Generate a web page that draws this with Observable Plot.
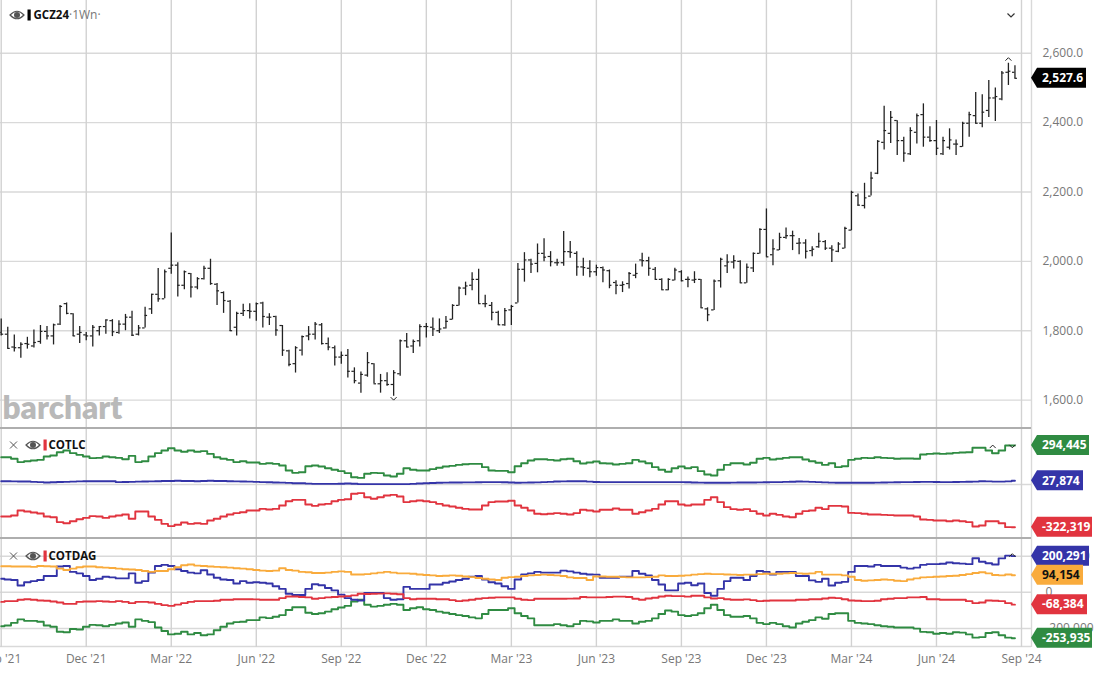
<!DOCTYPE html>
<html>
<head>
<meta charset="utf-8">
<script src="https://cdn.jsdelivr.net/npm/d3@7"></script>
<script src="https://cdn.jsdelivr.net/npm/@observablehq/plot@0.6"></script>
<style>
html,body{margin:0;padding:0;background:#fff;overflow:hidden}
#chart{position:relative;width:1100px;height:675px;overflow:hidden;font-family:"Open Sans",sans-serif}
#chart>svg,#chart>div{position:absolute}
</style>
</head>
<body>
<div id="chart"></div>
<script>
// Weekly OHLC, GCZ24
const high=[1834,1810,1788,1765,1781,1802,1815,1812,1819,1873,
1880,1849,1812,1795,1815,1812,1831,1832,1829,1847,
1856,1815,1868,1905,1979,1975,2082,1996,1972,1965,
1953,1986,2006,1936,1912,1887,1853,1876,1878,1880,
1882,1849,1842,1815,1744,1754,1785,1812,1824,1821,
1779,1756,1739,1746,1693,1681,1737,1705,1674,1679,
1685,1773,1792,1773,1817,1821,1837,1834,1841,1875,
1926,1940,1967,1977,1902,1881,1856,1864,1873,1994,
2025,2006,2050,2065,2028,2006,2086,2057,2028,2009,
2002,1989,1984,1975,1944,1941,1968,1992,2023,2012,
1982,1950,1950,1980,1973,1955,1970,1948,1866,1946,
2009,2019,2016,2002,1992,2024,2094,2151,2062,2081,
2096,2087,2066,2062,2042,2081,2060,2045,2054,2098,
2202,2194,2225,2257,2348,2447,2432,2405,2358,2385,
2425,2454,2388,2406,2358,2382,2350,2401,2430,2487,
2480,2521,2500,2547,2571,2564];
const low=[1785,1747,1739,1721,1747,1750,1761,1773,1759,1815,
1846,1783,1763,1771,1753,1785,1790,1783,1790,1800,
1783,1785,1808,1847,1882,1892,1963,1897,1918,1894,
1918,1946,1931,1873,1850,1798,1785,1841,1834,1827,
1808,1815,1784,1726,1696,1678,1727,1771,1773,1759,
1742,1698,1703,1664,1647,1620,1666,1647,1620,1640,
1611,1669,1751,1734,1753,1779,1783,1792,1805,1831,
1871,1901,1915,1878,1866,1829,1815,1813,1815,1880,
1940,1965,1967,1999,1984,1986,1986,2009,1957,1957,
1953,1957,1938,1921,1904,1910,1920,1950,1984,1957,
1946,1917,1915,1944,1941,1924,1936,1865,1826,1858,
1923,1965,1978,1937,1937,1968,2021,2012,1987,2031,
2064,2031,2019,2007,2013,2038,2031,1997,2025,2036,
2088,2159,2151,2188,2250,2321,2340,2305,2286,2305,
2338,2329,2343,2305,2305,2321,2305,2329,2358,2396,
2385,2415,2403,2463,2507,2526];
const open=[1795,1790,1753,1751,1763,1756,1769,1798,1785,1819,
1878,1849,1790,1788,1785,1800,1812,1829,1795,1819,
1839,1790,1808,1863,1905,1892,1980,1989,1931,1965,
1926,1950,1980,1934,1910,1885,1810,1850,1858,1856,
1880,1839,1841,1815,1742,1705,1744,1785,1790,1817,
1763,1751,1724,1729,1683,1649,1672,1705,1647,1656,
1645,1676,1771,1756,1771,1812,1810,1800,1808,1833,
1873,1923,1931,1948,1878,1873,1853,1817,1860,1880,
1977,2004,1994,2023,2014,1996,1996,2028,2023,1984,
1980,1970,1982,1973,1939,1931,1936,1960,2004,2002,
1977,1948,1918,1946,1970,1948,1946,1948,1863,1860,
1944,1987,1998,2000,1938,1981,2023,2092,2019,2033,
2069,2074,2052,2053,2031,2042,2057,2038,2029,2038,
2090,2189,2161,2188,2254,2343,2369,2406,2348,2310,
2372,2423,2358,2348,2310,2329,2338,2331,2398,2420,
2398,2435,2471,2468,2545,2545];
const close=[1790,1749,1751,1761,1761,1766,1798,1785,1817,1870,
1850,1785,1795,1785,1810,1812,1831,1797,1819,1839,
1787,1808,1844,1905,1892,1970,1989,1931,1970,1926,
1950,1980,1936,1915,1887,1800,1850,1858,1856,1878,
1841,1839,1802,1744,1703,1751,1783,1790,1819,1763,
1753,1724,1729,1683,1656,1674,1708,1647,1656,1645,
1679,1771,1753,1769,1812,1812,1805,1805,1827,1873,
1923,1929,1948,1878,1878,1853,1817,1858,1870,1977,
2004,1992,2023,2012,1999,1996,2028,2026,1984,1982,
1970,1982,1975,1931,1931,1933,1965,1965,2002,1980,
1948,1918,1948,1975,1944,1948,1948,1866,1846,1943,
2006,1998,2002,1938,1983,2023,2092,2013,2036,2069,
2074,2074,2053,2029,2035,2058,2038,2033,2050,2095,
2199,2162,2183,2240,2346,2377,2415,2348,2312,2377,
2420,2358,2348,2326,2348,2350,2338,2398,2423,2398,
2430,2471,2475,2543,2548,2527.6];

// COTLC, thousands of contracts
const cotlcGreen=[206,206,194,169,176,181,186,211,219,244,
257,237,224,211,199,201,211,206,201,191,
216,169,176,211,237,257,274,257,247,257,
247,252,231,206,194,186,169,176,166,166,
156,161,156,143,106,88,93,138,143,136,
123,111,101,86,55,50,81,88,86,68,
60,81,123,111,106,106,116,126,136,141,
148,153,156,156,131,106,103,103,93,138,
161,181,191,191,186,181,191,194,176,159,
166,174,161,159,151,156,161,186,174,161,
131,111,96,123,136,123,131,101,75,68,
111,148,161,161,151,164,194,201,189,194,
201,206,206,189,176,164,148,161,131,138,
186,194,201,199,206,201,199,194,196,196,
194,226,231,234,231,234,239,242,244,277,
277,257,236,257,294,294.445];
const cotlcBlue=[25,25,24,23,23,20,18,15,17,19,
20,22,24,25,25,25,25,25,18,19,
20,22,23,24,25,26,27,28,27,26,
25,26,28,27,26,25,24,23,22,20,
18,17,15,14,12,10,9,7,5,5,
5,5,6,8,6,3,3,3,3,3,
3,3,3,5,8,10,11,13,14,15,
15,16,16,17,18,18,18,17,15,13,
14,15,16,18,20,23,24,25,25,25,
22,19,18,18,18,18,18,18,18,18,
18,18,18,18,18,17,15,14,13,13,
13,13,14,15,15,15,16,17,18,18,
20,21,23,22,20,18,16,14,13,13,
13,13,13,13,14,15,16,17,18,18,
19,20,20,19,18,18,19,20,21,22,
25,24,22,22,24,27.874];
const cotlcRed=[-242,-242,-234,-196,-204,-211,-219,-242,-247,-284,
-292,-277,-262,-252,-239,-242,-252,-242,-234,-226,
-259,-204,-204,-242,-267,-297,-314,-304,-287,-297,
-292,-297,-272,-259,-242,-226,-216,-209,-196,-196,
-184,-189,-184,-159,-126,-116,-116,-151,-161,-151,
-146,-126,-116,-111,-70,-65,-96,-108,-96,-83,
-78,-91,-133,-126,-121,-126,-133,-146,-159,-166,
-176,-184,-189,-189,-159,-133,-128,-128,-123,-159,
-176,-196,-221,-224,-221,-216,-221,-226,-216,-191,
-196,-204,-191,-191,-181,-191,-191,-221,-209,-196,
-184,-151,-126,-126,-151,-159,-151,-151,-116,-96,
-133,-171,-186,-191,-186,-201,-221,-234,-221,-229,
-242,-247,-221,-201,-196,-176,-186,-161,-161,-166,
-214,-216,-221,-226,-226,-229,-231,-234,-234,-234,
-242,-264,-267,-272,-272,-277,-272,-277,-284,-317,
-309,-277,-277,-292,-322,-322.319];

// COTDAG, thousands of contracts
const cotdagBlue=[75,71,68,38,56,62,68,90,90,143,
146,113,105,90,68,75,86,83,77,77,
105,53,62,109,146,152,146,128,118,109,
105,122,99,81,71,68,49,62,53,56,
53,49,34,19,-8,-15,-15,19,45,39,
24,11,-13,-32,-41,-45,-4,-4,-4,-32,
-41,-38,30,19,19,19,43,43,53,60,
68,75,86,90,71,56,49,34,19,71,
99,105,113,109,109,109,120,116,109,103,
99,98,81,81,81,86,86,118,103,94,
68,43,11,11,49,53,39,49,-4,-19,
19,62,81,81,68,90,118,113,99,113,
113,113,90,90,66,58,75,38,53,58,
113,146,146,143,152,146,146,146,137,131,
137,152,156,156,158,165,161,159,156,189,
169,161,154,188,203,200.291];
const cotdagOrange=[144,144,143,143,143,141,146,144,143,131,
124,131,139,143,143,139,137,135,131,128,
126,124,118,113,118,118,128,139,150,154,
148,146,143,141,139,137,133,131,128,124,
120,118,120,133,124,120,113,111,107,107,
109,113,116,113,99,99,101,105,109,113,
109,105,105,103,99,96,94,90,92,94,
92,88,84,79,75,71,68,81,84,86,
90,94,96,98,96,94,90,83,79,79,
68,88,88,86,86,84,83,83,83,84,
86,94,90,90,92,94,98,101,103,101,
101,99,98,96,98,98,101,103,103,103,
105,107,105,103,105,113,98,98,98,94,
86,68,64,66,68,71,69,64,62,71,
77,83,84,86,88,90,92,96,101,107,
111,105,96,94,99,94.154];
const cotdagRed=[-53,-49,-49,-41,-38,-41,-45,-47,-51,-56,
-64,-64,-53,-51,-51,-49,-51,-53,-49,-53,
-60,-53,-53,-56,-64,-71,-75,-68,-60,-53,
-49,-49,-49,-47,-41,-41,-38,-38,-38,-39,
-41,-41,-41,-32,-23,-23,-26,-28,-36,-32,
-28,-26,-23,-21,-17,-8,-9,-8,-7,-6,
-8,-11,-32,-38,-36,-36,-36,-38,-38,-43,
-49,-45,-41,-36,-32,-30,-28,-28,-28,-36,
-41,-43,-36,-36,-36,-36,-36,-35,-34,-26,
-28,-28,-28,-26,-24,-24,-26,-36,-41,-34,
-30,-23,-19,-21,-21,-24,-19,-19,-28,-34,
-32,-38,-41,-41,-39,-43,-49,-47,-45,-45,
-45,-45,-41,-41,-38,-38,-34,-30,-32,-38,
-45,-47,-49,-49,-47,-38,-36,-32,-32,-28,
-28,-26,-38,-38,-41,-41,-41,-41,-49,-60,
-56,-45,-47,-49,-60,-68.384];
const cotdagGreen=[-188,-184,-169,-150,-158,-158,-163,-184,-191,-218,
-221,-203,-206,-191,-180,-182,-188,-180,-173,-167,
-191,-150,-158,-165,-195,-214,-233,-229,-218,-233,
-225,-238,-233,-210,-191,-173,-165,-163,-154,-154,
-139,-143,-135,-126,-98,-83,-83,-113,-120,-116,
-107,-94,-84,-75,-51,-41,-69,-79,-75,-69,
-64,-69,-98,-88,-83,-94,-98,-107,-113,-120,
-126,-131,-139,-144,-120,-98,-98,-98,-88,-116,
-131,-144,-182,-182,-182,-176,-182,-188,-176,-158,
-161,-167,-158,-158,-150,-158,-158,-173,-163,-158,
-144,-120,-101,-107,-126,-131,-126,-116,-88,-69,
-98,-126,-135,-135,-131,-144,-169,-176,-169,-176,
-188,-195,-173,-163,-154,-139,-146,-120,-116,-116,
-158,-169,-173,-176,-182,-188,-191,-195,-195,-195,
-201,-219,-221,-229,-225,-229,-221,-223,-233,-251,
-248,-225,-221,-238,-251,-253.935];

// Axis: one gridline every 13 weekly bars
const tickLabels=["Sep '21","Dec '21","Mar '22","Jun '22","Sep '22","Dec '22","Mar '23","Jun '23","Sep '23","Dec '23","Mar '24","Jun '24","Sep '24"];
const tickBars=tickLabels.map((_,k)=>k*13);
const priceTicks=[1600,1800,2000,2200,2400,2600];
const cotdagTicks=[200,0,-200,-300];
const cotdagLabelled=[200,0,-200];

const C={green:"#2f8b42",blue:"#3434a8",red:"#e1343f",orange:"#f9ab3c",grid:"#d9d9d9",vgrid:"#d2d2d2",label:"#777"};
const W=1100, plotRight=1031, marginRight=W-plotRight;
const xDomain=[-0.11,157.53];
const bars=high.map((h,i)=>({i,high:h,low:low[i],open:open[i],close:close[i]}));
const series=a=>a.map((v,i)=>({i,v}));
const chevUp={draw(c){c.moveTo(-3,1.6);c.lineTo(0,-1.4);c.lineTo(3,1.6);}};
const chevDown={draw(c){c.moveTo(-3,-1.6);c.lineTo(0,1.4);c.lineTo(3,-1.6);}};
const chart=document.getElementById("chart");
const fmtK=d=>d3.format(",")(d*1000).replace("−","-");

function stepLine(a,color){
  return Plot.line(series(a),{x:"i",y:"v",curve:"step",stroke:color,strokeWidth:1.9});
}
function caret(i,v,sym){
  return Plot.dot([{i,v}],{x:"i",y:"v",symbol:sym,r:3,fill:"none",stroke:"#222",strokeWidth:1});
}
function label(text,dx,dy,opts={}){
  return Plot.text([text],{frameAnchor:"top-left",dx,dy,textAnchor:"start",lineAnchor:"middle",fontSize:11.5,fontWeight:700,fill:"#111",...opts});
}
function panel(top,height,opts,marks){
  const svg=Plot.plot({
    width:W,height,marginLeft:0,marginRight,marginTop:0,marginBottom:opts.marginBottom||0,
    style:{fontFamily:'"Open Sans",sans-serif',fontSize:"12px",background:"transparent",overflow:"visible"},
    x:{type:"linear",domain:xDomain,axis:null},
    y:{type:"linear",domain:opts.domain,range:opts.range,axis:null},
    marks
  });
  svg.style.left="0px"; svg.style.top=top+"px";
  chart.appendChild(svg);
  return svg;
}
function addTags(svg,tags){
  const y=svg.scale("y");
  const g=d3.select(svg).append("g");
  for(const t of tags){
    const cy=y.apply(t.value), h=10;
    g.append("path").attr("d",`M${plotRight} ${cy}L${plotRight+6} ${cy-h}H${t.right}V${cy+h}H${plotRight+6}Z`).attr("fill",t.fill);
    g.append("text").attr("x",plotRight+11).attr("y",cy).attr("dy","0.35em").attr("text-anchor","start")
      .attr("fill",t.color||"#fff").attr("font-size",12).attr("font-weight",700)
      .attr("font-family",'"Open Sans",sans-serif').text(t.text);
  }
}
const grid=()=>[
  Plot.ruleX(tickBars,{stroke:C.vgrid,strokeWidth:1.4}),
  Plot.ruleX([xDomain[1]],{stroke:C.grid,strokeWidth:1.4})
];

// Price panel
const p1=panel(0,428,{domain:[1600,2600],range:[399.6,52.7]},[
  Plot.ruleY(priceTicks,{x1:xDomain[0],x2:xDomain[1],stroke:C.grid,strokeWidth:1.4}),
  ...grid(),
  Plot.axisY(priceTicks,{anchor:"right",tickSize:0,tickPadding:11,tickFormat:d3.format(",.1f"),fill:C.label,fontSize:12,label:null}),
  Plot.text(["barchart"],{frameAnchor:"top-left",dx:2,dy:408,textAnchor:"start",lineAnchor:"middle",fontSize:31.5,fontWeight:800,fill:"#b9b9b9",fontFamily:"Lato,sans-serif",letterSpacing:"-0.4px"}),
  Plot.ruleX(bars,{x:"i",y1:"low",y2:"high",stroke:"#222",strokeWidth:1.3}),
  Plot.ruleY(bars,{y:"open",x1:d=>d.i-0.38,x2:"i",stroke:"#222",strokeWidth:1.2}),
  Plot.ruleY(bars,{y:"close",x1:"i",x2:d=>d.i+0.38,stroke:"#222",strokeWidth:1.2}),
  caret(154,2583,chevUp),
  caret(60,1604,chevDown),
  label("GCZ24",33,15),
  label("·1Wn·",68.5,15,{fill:"#777",fontWeight:400,fontSize:12})
]);
addTags(p1,[{value:2527.6,text:"2,527.6",fill:"#000",right:1086}]);

// COTLC panel
const p2=panel(428,110,{domain:[-322.319,294.445],range:[98.7,17]},[
  Plot.ruleY([0],{x1:xDomain[0],x2:xDomain[1],stroke:C.grid,strokeWidth:1.4}),
  ...grid(),
  stepLine(cotlcGreen,C.green),
  stepLine(cotlcBlue,C.blue),
  stepLine(cotlcRed,C.red),
  caret(151.6,287,chevUp),
  caret(154.6,288,chevDown),
  label("COTLC",48,17)
]);
addTags(p2,[
  {value:294.445,text:"294,445",fill:C.green,right:1089},
  {value:27.874,text:"27,874",fill:C.blue,right:1083},
  {value:-322.319,text:"-322,319",fill:C.red,right:1092}
]);

// COTDAG panel
const p3=panel(538,137,{domain:[-300,200],range:[108,17.7],marginBottom:28},[
  Plot.ruleY(cotdagTicks,{x1:xDomain[0],x2:xDomain[1],stroke:C.grid,strokeWidth:1.4}),
  ...grid(),
  Plot.axisY(cotdagLabelled,{anchor:"right",tickSize:0,tickPadding:14,tickFormat:fmtK,fill:C.label,fontSize:12,label:null}),
  Plot.axisX(tickBars,{anchor:"bottom",tickSize:0,tickPadding:7,tickFormat:(d,k)=>tickLabels[k],fill:C.label,fontSize:12,label:null}),
  stepLine(cotdagGreen,C.green),
  stepLine(cotdagBlue,C.blue),
  stepLine(cotdagOrange,C.orange),
  stepLine(cotdagRed,C.red),
  caret(154.6,206,chevUp),
  label("COTDAG",48,18)
]);
addTags(p3,[
  {value:200.291,text:"200,291",fill:C.blue,right:1089},
  {value:94.154,text:"94,154",fill:C.orange,color:"#111",right:1083},
  {value:-68.384,text:"-68,384",fill:C.red,right:1087},
  {value:-253.935,text:"-253,935",fill:C.green,right:1092}
]);

// Panel dividers
for(const y of [426.5,536.5]){
  const d=document.createElement("div");
  d.style.cssText=`left:0;top:${y}px;width:${plotRight}px;height:2px;background:#aeaeae`;
  chart.appendChild(d);
}

// Toolbar icons
const eye=(x,y)=>`<path d="M${x-7} ${y}Q${x} ${y-7.5} ${x+7} ${y}Q${x} ${y+7.5} ${x-7} ${y}Z" fill="none" stroke="#555" stroke-width="1.2"/><circle cx="${x}" cy="${y}" r="3" fill="#555"/>`;
const cross=(x,y)=>`<path d="M${x-3.5} ${y-3.5}L${x+3.5} ${y+3.5}M${x+3.5} ${y-3.5}L${x-3.5} ${y+3.5}" stroke="#555" stroke-width="1" fill="none"/>`;
const bar=(x,y,c)=>`<rect x="${x}" y="${y-5.5}" width="3.2" height="11" fill="${c}"/>`;
const ns="http://www.w3.org/2000/svg";
const ov=document.createElementNS(ns,"svg");
ov.setAttribute("width",W);ov.setAttribute("height",675);
ov.style.cssText="left:0;top:0;pointer-events:none";
ov.innerHTML=eye(17,15)+bar(27.5,15,"#000")
  +cross(13.5,445)+eye(33,445)+bar(43.5,445,C.red)
  +cross(13.5,556)+eye(33,556)+bar(43.5,556,C.red)
  +`<path d="M1007.5 13.5L1011 17L1014.5 13.5" fill="none" stroke="#333" stroke-width="1.2"/>`;
chart.appendChild(ov);
</script>
</body>
</html>
